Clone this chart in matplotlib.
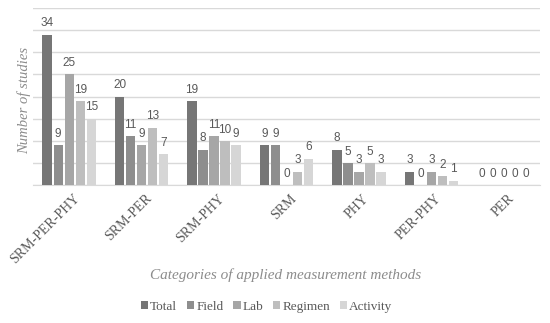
import numpy as np
import matplotlib.pyplot as plt

# categories and series
categories = ['SRM-PER-PHY', 'SRM-PER', 'SRM-PHY', 'SRM', 'PHY', 'PER-PHY', 'PER']
series_names = ['Total', 'Field', 'Lab', 'Regimen', 'Activity']
total = [34, 20, 19, 9, 8, 3, 0]
field = [9, 11, 8, 9, 5, 0, 0]
lab = [25, 9, 11, 0, 3, 3, 0]
regimen = [19, 13, 10, 3, 5, 2, 0]
activity = [15, 7, 9, 6, 3, 1, 0]
series = [total, field, lab, regimen, activity]
colors = ['#767676', '#8e8e8e', '#a6a6a6', '#bebebe', '#d6d6d6']

txt = '#595959'

fig = plt.figure(figsize=(5.5, 3.23), dpi=100)
ax = fig.add_axes([0.06, 0.427, 0.922, 0.548])

x = np.arange(len(categories))
step = 0.152
width = 0.13
for i, (name, vals, c) in enumerate(zip(series_names, series, colors)):
    pos = x + (i - 2) * step
    ax.bar(pos, vals, width, color=c, label=name, zorder=3)
    for p, v in zip(pos, vals):
        ax.text(p, v + 1.2, str(v), ha='center', va='bottom', fontsize=8.5,
                color=txt, family='Liberation Sans')

ax.set_ylim(0, 40)
ax.set_xlim(-0.5, len(categories) - 0.5)
ax.set_yticks(np.arange(0, 41, 5))
ax.set_yticklabels([])
ax.tick_params(axis='y', length=0)
ax.tick_params(axis='x', length=0, pad=5)
ax.yaxis.grid(True, color='#d9d9d9', linewidth=1, zorder=0)
for s in ['top', 'right', 'left']:
    ax.spines[s].set_visible(False)
ax.spines['bottom'].set_color('#d9d9d9')

ax.set_xticks(x + 0.05)
ax.set_xticklabels(categories, rotation=45, ha='right', va='top',
                   rotation_mode='anchor', fontsize=10, color=txt,
                   family='Liberation Serif')

ax.set_ylabel('Number of studies', fontsize=10.5, color='#8c8c8c',
              family='Liberation Serif', style='italic')
ax.yaxis.set_label_coords(-0.004, 0.48)
fig.text(0.52, 0.148, 'Categories of applied measurement methods', ha='center',
         va='center', fontsize=11, color='#8c8c8c', family='Liberation Serif',
         style='italic')

fig.legend(loc='center', bbox_to_anchor=(0.485, 0.05), ncol=5, frameon=False,
           prop={'family': 'Liberation Serif', 'size': 9.5}, labelcolor=txt,
           handlelength=0.55, handleheight=0.55, handletextpad=0.15,
           columnspacing=0.75)

plt.savefig('out.png', dpi=100)
